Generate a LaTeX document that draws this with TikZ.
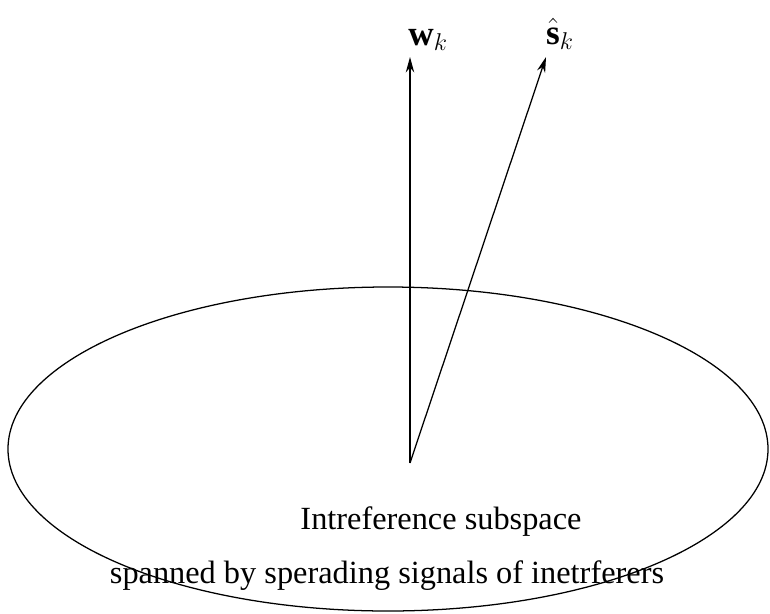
\documentclass[tikz,border=0pt]{standalone}
\usepackage{fontspec}
\setmainfont{Liberation Serif}
\usetikzlibrary{arrows.meta}
\tikzset{
  vec/.style={line width=0.9pt,-{Stealth[length=11pt,width=6pt]}},
  lbl/.style={font=\fontsize{23}{27}\selectfont,inner sep=0pt},
  mlbl/.style={font=\fontsize{25}{29}\selectfont,inner sep=0pt},
}
\begin{document}
\begin{tikzpicture}[x=0.025cm,y=-0.025cm]

\useasboundingbox (0,0) rectangle (770,613);

\draw[line width=0.9pt] (388,449) ellipse [x radius=380, y radius=162];

\coordinate (o) at (410,463);
\coordinate (wtip) at (410,57);
\coordinate (stip) at (546,57);

\draw[vec] (o) -- (wtip);
\draw[vec] (o) -- (stip);

\node[mlbl] (w) at (428,40) {$\mathbf{w}_k$};
\node[mlbl] (s) at (560,34) {$\hat{\mathbf{s}}_k$};

\node[lbl] (sub) at (441,522) {Intreference subspace};
\node[lbl] (span) at (387,576) {spanned by sperading signals of inetrferers};

\end{tikzpicture}
\end{document}
